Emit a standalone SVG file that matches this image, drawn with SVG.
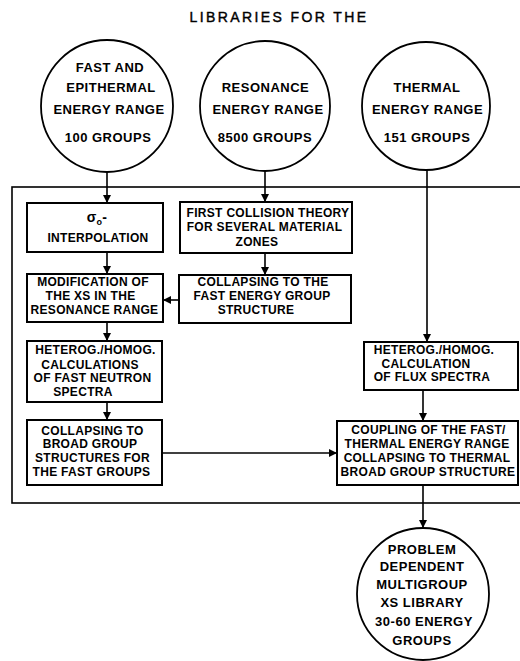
<svg xmlns="http://www.w3.org/2000/svg" width="520" height="661" viewBox="0 0 520 661">
<defs>
<style>
.bg{fill:#fff}
.box{fill:#fff;stroke:#000;stroke-width:2}
.frame{fill:none;stroke:#000;stroke-width:1.6}
.circ{fill:#fff;stroke:#000;stroke-width:1.8}
.t{font-family:"Liberation Sans",Arial,sans-serif;font-weight:bold;font-size:12px;letter-spacing:0.3px;fill:#000;text-anchor:middle}
.ct{font-family:"Liberation Sans",Arial,sans-serif;font-weight:bold;font-size:13px;letter-spacing:0.5px;fill:#000;text-anchor:middle}
.title{font-family:"Liberation Sans",Arial,sans-serif;font-size:14px;letter-spacing:2.4px;fill:#000;stroke:#000;stroke-width:0.4;text-anchor:middle}
.c{fill:none;stroke:#000;stroke-width:1.6}
</style>
<marker id="ah" viewBox="0 0 10 10" refX="10" refY="5" markerWidth="8" markerHeight="8" markerUnits="userSpaceOnUse" orient="auto">
<path d="M0,0 L10,5 L0,10 Z" fill="#000"/>
</marker>
</defs>
<rect class="bg" x="0" y="0" width="520" height="661"/>
<text class="title" x="279" y="22">LIBRARIES FOR THE</text>

<rect class="frame" x="12" y="187" width="520" height="316"/>

<g id="connectors">
<line class="c" x1="107" y1="172" x2="107" y2="203" marker-end="url(#ah)"/>
<line class="c" x1="265" y1="171" x2="265" y2="202" marker-end="url(#ah)"/>
<line class="c" x1="427" y1="170" x2="427" y2="342" marker-end="url(#ah)"/>
<line class="c" x1="107" y1="252" x2="107" y2="274" marker-end="url(#ah)"/>
<line class="c" x1="265" y1="253" x2="265" y2="275" marker-end="url(#ah)"/>
<line class="c" x1="179" y1="300" x2="163" y2="300" marker-end="url(#ah)"/>
<line class="c" x1="107" y1="322" x2="107" y2="341" marker-end="url(#ah)"/>
<line class="c" x1="107" y1="402" x2="107" y2="420" marker-end="url(#ah)"/>
<line class="c" x1="162" y1="453" x2="337" y2="453" marker-end="url(#ah)"/>
<line class="c" x1="423" y1="390" x2="423" y2="421" marker-end="url(#ah)"/>
<line class="c" x1="423" y1="485" x2="423" y2="528" marker-end="url(#ah)"/>
</g>

<g id="lib-fast">
<circle class="circ" cx="107" cy="106" r="66"/>
<text class="ct" x="110" y="72">FAST AND</text>
<text class="ct" x="111" y="92">EPITHERMAL</text>
<text class="ct" x="109" y="114">ENERGY RANGE</text>
<text class="ct" x="108" y="142">100 GROUPS</text>
</g>
<g id="lib-resonance">
<circle class="circ" cx="265" cy="106" r="65"/>
<text class="ct" x="265.5" y="92">RESONANCE</text>
<text class="ct" x="268" y="114">ENERGY RANGE</text>
<text class="ct" x="265" y="142">8500 GROUPS</text>
</g>
<g id="lib-thermal">
<circle class="circ" cx="426" cy="106" r="64"/>
<text class="ct" x="427" y="92">THERMAL</text>
<text class="ct" x="427.5" y="114">ENERGY RANGE</text>
<text class="ct" x="427" y="142">151 GROUPS</text>
</g>

<g id="interp">
<rect class="box" x="27" y="203" width="136" height="49"/>
<text class="t" x="97" y="222" style="font-size:14px">σ<tspan dy="3" style="font-size:9px">o</tspan><tspan dy="-3">-</tspan></text>
<text class="t" x="98" y="242">INTERPOLATION</text>
</g>
<g id="first-collision">
<rect class="box" x="180" y="202" width="172" height="51"/>
<text class="t" x="268" y="217">FIRST COLLISION THEORY</text>
<text class="t" x="264.5" y="231">FOR SEVERAL MATERIAL</text>
<text class="t" x="257" y="246">ZONES</text>
</g>
<g id="collapse-fast">
<rect class="box" x="179" y="275" width="172" height="48"/>
<text class="t" x="263" y="286">COLLAPSING TO THE</text>
<text class="t" x="262" y="300">FAST ENERGY GROUP</text>
<text class="t" x="256" y="314">STRUCTURE</text>
</g>
<g id="modification">
<rect class="box" x="27" y="274" width="136" height="48"/>
<text class="t" x="93" y="286">MODIFICATION OF</text>
<text class="t" x="90.5" y="300">THE XS IN THE</text>
<text class="t" x="94.5" y="314">RESONANCE RANGE</text>
</g>
<g id="heterog-fast">
<rect class="box" x="27" y="341" width="135" height="61"/>
<text class="t" x="95.5" y="354">HETEROG./HOMOG.</text>
<text class="t" x="90" y="369">CALCULATIONS</text>
<text class="t" x="92.5" y="382">OF FAST NEUTRON</text>
<text class="t" x="83" y="396">SPECTRA</text>
</g>
<g id="collapse-broad">
<rect class="box" x="27" y="420" width="135" height="65"/>
<text class="t" x="92.5" y="435">COLLAPSING TO</text>
<text class="t" x="90" y="448">BROAD GROUP</text>
<text class="t" x="92.5" y="462">STRUCTURES FOR</text>
<text class="t" x="91.5" y="476">THE FAST GROUPS</text>
</g>
<g id="heterog-thermal">
<rect class="box" x="364" y="342" width="154" height="48"/>
<text class="t" x="434" y="354">HETEROG./HOMOG.</text>
<text class="t" x="426" y="368">CALCULATION</text>
<text class="t" x="432" y="381">OF FLUX SPECTRA</text>
</g>
<g id="coupling">
<rect class="box" x="337" y="421" width="181" height="64"/>
<text class="t" x="428.5" y="434">COUPLING OF THE FAST/</text>
<text class="t" x="427" y="448">THERMAL ENERGY RANGE</text>
<text class="t" x="427" y="462">COLLAPSING TO THERMAL</text>
<text class="t" x="428" y="476">BROAD GROUP STRUCTURE</text>
</g>
<g id="library-out">
<circle class="circ" cx="423" cy="594" r="66"/>
<text class="ct" x="422" y="553.5">PROBLEM</text>
<text class="ct" x="422" y="570.5">DEPENDENT</text>
<text class="ct" x="422" y="588.5">MULTIGROUP</text>
<text class="ct" x="422" y="606.5">XS LIBRARY</text>
<text class="ct" x="424" y="625.5">30-60 ENERGY</text>
<text class="ct" x="422" y="644.5">GROUPS</text>
</g>
</svg>
